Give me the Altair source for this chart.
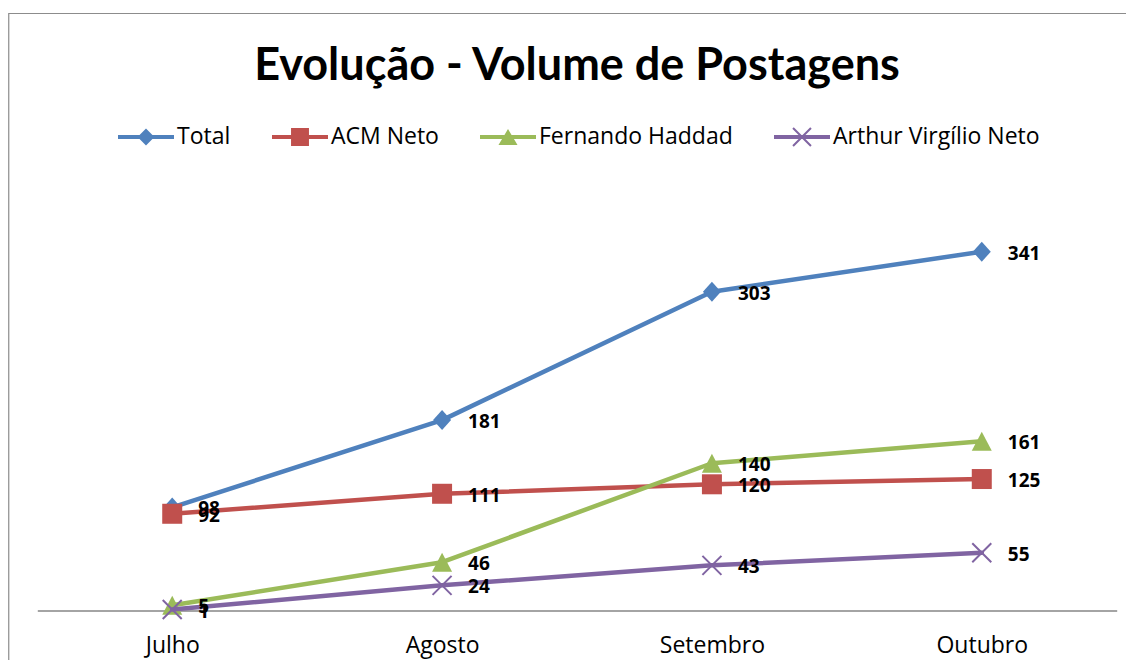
import altair as alt
import pandas as pd

months = ["Julho", "Agosto", "Setembro", "Outubro"]
series = ["Total", "ACM Neto", "Fernando Haddad", "Arthur Virgílio Neto"]
total = [98, 181, 303, 341]
acm_neto = [92, 111, 120, 125]
fernando_haddad = [5, 46, 140, 161]
arthur_virgilio = [1, 24, 43, 55]
colors = ["#4F81BD", "#C0504D", "#9BBB59", "#8064A2"]
title_text = "Evolução - Volume de Postagens"

values_by_series = [total, acm_neto, fernando_haddad, arthur_virgilio]
rows = []
for s, vals in zip(series, values_by_series):
    for m, v in zip(months, vals):
        rows.append({"month": m, "series": s, "value": v})
df = pd.DataFrame(rows)


def xline(h, t):
    # two thin filled diagonals forming an X (half size h, half thickness t)
    o = t / 2 ** 0.5
    p1 = f"M{-h+o},{-h-o}L{h+o},{h-o}L{h-o},{h+o}L{-h-o},{-h+o}Z"
    p2 = f"M{h+o},{-h+o}L{-h+o},{h+o}L{-h-o},{h-o}L{h-o},{-h-o}Z"
    return p1 + p2


bar = "M-1,-0.075H1V0.075H-1Z"
legend_paths = [
    bar + "M0,-0.3L0.3,0L0,0.3L-0.3,0Z",
    bar + "M-0.32,-0.32H0.32V0.32H-0.32Z",
    bar + "M0,-0.29L0.34,0.29L-0.34,0.29Z",
    bar + xline(0.32, 0.036),
]
point_paths = [
    "M0,-1L0.9,0L0,1L-0.9,0Z",
    "M-1,-1H1V1H-1Z",
    "M0,-0.95L1,0.95L-1,0.95Z",
    "M-0.95,-0.95L0.95,0.95M0.95,-0.95L-0.95,0.95",
]
point_filled = [True, True, True, False]

W, H = 1079.4, 421
PL, PT = 29.3, 181.6
FRAME_TOP = -PT + 5.5

x_enc = alt.X(
    "month:N",
    sort=months,
    scale=alt.Scale(type="point", padding=0.5),
    axis=alt.Axis(
        title=None,
        labelAngle=0,
        ticks=False,
        tickSize=0,
        grid=False,
        domainColor="#868686",
        domainWidth=1.5,
        labelFont="Open Sans",
        labelFontSize=23,
        labelColor="black",
        labelBaseline="middle",
        labelPadding=35,
    ),
)
y_enc = alt.Y("value:Q", scale=alt.Scale(domain=[0, 400], nice=False, zero=True), axis=None)

base = alt.Chart(df)

frame = alt.Chart(pd.DataFrame({"k": [0]})).mark_rect(
    fillOpacity=0, stroke="#8c8c8c", strokeWidth=1.2
).encode(
    x=alt.value(-PL + 0.75),
    x2=alt.value(W + 40),
    y=alt.value(FRAME_TOP),
    y2=alt.value(H + 60),
)

series_layers = []
for i, s in enumerate(series):
    sub = base.transform_filter(alt.datum.series == s)
    ln = sub.mark_line(
        strokeWidth=4.5, strokeJoin="round", strokeCap="round", color=colors[i]
    ).encode(x=x_enc, y=y_enc)
    if point_filled[i]:
        mk = sub.mark_point(
            shape=point_paths[i], size=400, filled=True, opacity=1, strokeWidth=0, color=colors[i]
        )
    else:
        mk = sub.mark_point(
            shape=point_paths[i], size=400, filled=False, opacity=1, strokeWidth=2, color=colors[i]
        )
    series_layers += [ln, mk.encode(x=x_enc, y=y_enc)]

labels = base.mark_text(
    align="left", baseline="middle", dx=26, dy=2,
    font="Open Sans", fontSize=19, fontWeight="bold", color="black",
).encode(x=x_enc, y=y_enc, text=alt.Text("value:Q"))

leg = alt.Legend(
    orient="none",
    legendX=80.7,
    legendY=-80.6,
    direction="horizontal",
    columns=4,
    title=None,
    padding=0,
    symbolSize=3136,
    symbolStrokeWidth=0,
    symbolOpacity=1,
    labelFont="Open Sans",
    labelFontSize=23,
    labelColor="black",
    labelOffset=3,
    labelLimit=400,
    columnPadding=41,
)

legend_layer = base.transform_filter(alt.datum.month == months[0]).mark_point(
    filled=True, opacity=0
).encode(
    x=x_enc,
    y=y_enc,
    color=alt.Color("series:N", scale=alt.Scale(domain=series, range=colors), legend=leg),
    shape=alt.Shape("series:N", scale=alt.Scale(domain=series, range=legend_paths), legend=leg),
)

# Vega measures the title offset from the top of the drawn content (the frame);
# value tuned so the title baseline sits where the reference has it.
title_offset = -((-FRAME_TOP + 1.2) - 109.6) - 44

chart = alt.layer(frame, *series_layers, labels, legend_layer).properties(
    width=W,
    height=H,
    background="white",
    padding={"left": PL, "top": PT, "right": 1118 - PL - W, "bottom": 652 - PT - H},
    autosize=alt.AutoSizeParams(type="none"),
    title=alt.Title(
        title_text,
        font="Lato",
        fontSize=45,
        fontWeight="bold",
        color="black",
        anchor="middle",
        baseline="alphabetic",
        offset=title_offset,
    ),
).configure_view(stroke="transparent", strokeWidth=0)

chart.save("out.html", embed_options={"renderer": "svg", "actions": False})
